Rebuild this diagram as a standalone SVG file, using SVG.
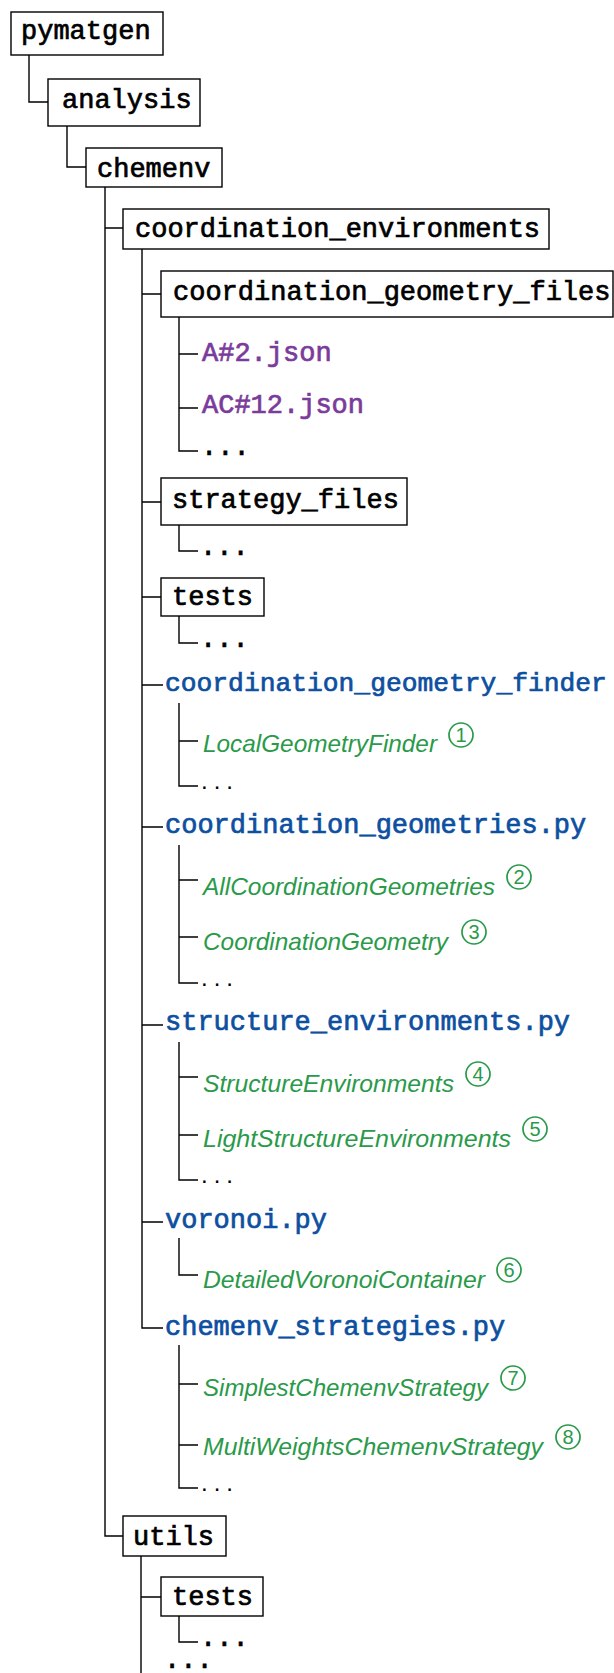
<svg xmlns="http://www.w3.org/2000/svg" width="614" height="1673" viewBox="0 0 614 1673">
<style>
.bg{fill:#fff}
.box{fill:#fff;stroke:#000;stroke-width:1.4}
.c{fill:none;stroke:#000;stroke-width:1.4}
.tt{font-family:"Liberation Mono","DejaVu Sans Mono",monospace;font-size:27px;fill:#000;stroke:#000;stroke-width:0.7}
.js{fill:#7b3b9a;stroke:#7b3b9a}
.py{fill:#0d4fa0;stroke:#0d4fa0}
.cl{font-family:"Liberation Sans","DejaVu Sans",sans-serif;font-style:italic;font-size:24px;fill:#2a9a4a}
.dots{font-family:"Liberation Sans",sans-serif;font-size:24px;fill:#000;letter-spacing:6px}
.circ{fill:none;stroke:#2a9a4a;stroke-width:1.7}
.num{font-family:"Liberation Sans","DejaVu Sans",sans-serif;font-size:20px;fill:#2a9a4a;text-anchor:middle}
</style>
<rect class="bg" x="0" y="0" width="614" height="1673"/>
<g id="connectors">
<path class="c" d="M29 55V102H48"/>
<path class="c" d="M67 126V167H86"/>
<path class="c" d="M105 187V1536H123M105 228H123"/>
<path class="c" d="M142 249V1328H163M142 294H161M142 502H161M142 597H161M142 685H163M142 827H163M142 1025H163M142 1222H163"/>
<path class="c" d="M179 317V451H198M179 354H198M179 408H198"/>
<path class="c" d="M179 525V551H198"/>
<path class="c" d="M179 616V643H198"/>
<path class="c" d="M179 703V786H198M179 741H198"/>
<path class="c" d="M179 845V983H198M179 880H198M179 937H198"/>
<path class="c" d="M179 1042V1180H198M179 1077H198M179 1135H198"/>
<path class="c" d="M179 1238V1275H198"/>
<path class="c" d="M179 1345V1488H198M179 1384H198M179 1445H198"/>
<path class="c" d="M141 1556V1680M141 1597H161"/>
<path class="c" d="M179 1616V1642H198"/>
</g>
<g id="pymatgen"><rect class="box" x="11" y="12" width="152" height="43"/><text class="tt" x="21" y="39">pymatgen</text></g>
<g id="analysis"><rect class="box" x="48" y="79" width="152" height="47"/><text class="tt" x="62" y="108">analysis</text></g>
<g id="chemenv"><rect class="box" x="86" y="148" width="136" height="39"/><text class="tt" x="97" y="177">chemenv</text></g>
<g id="coordination_environments"><rect class="box" x="123" y="209" width="426" height="40"/><text class="tt" x="135" y="237">coordination_environments</text></g>
<g id="coordination_geometry_files"><rect class="box" x="161" y="271" width="452" height="46"/><text class="tt" x="173" y="300">coordination_geometry_files</text></g>
<g id="a2json"><text class="tt js" x="202" y="361">A#2.json</text></g>
<g id="ac12json"><text class="tt js" x="202" y="413">AC#12.json</text></g>
<g id="cgf_more"><text class="tt" x="201" y="455">...</text></g>
<g id="strategy_files"><rect class="box" x="161" y="478" width="246" height="47"/><text class="tt" x="172" y="508">strategy_files</text></g>
<g id="sf_more"><text class="tt" x="200" y="555">...</text></g>
<g id="tests1"><rect class="box" x="161" y="578" width="103" height="38"/><text class="tt" x="172" y="605">tests</text></g>
<g id="tests1_more"><text class="tt" x="200" y="647">...</text></g>
<g id="coordination_geometry_finder"><text class="tt py" x="165" y="691" style="font-size:26.3px">coordination_geometry_finder</text></g>
<g id="LocalGeometryFinder"><text class="cl" x="203" y="752" textLength="234" lengthAdjust="spacingAndGlyphs">LocalGeometryFinder</text><circle class="circ" cx="461" cy="735" r="12"/><text class="num" x="461" y="742">1</text></g>
<g id="cgfinder_more"><text class="dots" x="201" y="789">...</text></g>
<g id="coordination_geometries"><text class="tt py" x="165" y="833">coordination_geometries.py</text></g>
<g id="AllCoordinationGeometries"><text class="cl" x="203" y="895" textLength="292" lengthAdjust="spacingAndGlyphs">AllCoordinationGeometries</text><circle class="circ" cx="519" cy="877" r="12"/><text class="num" x="519" y="884">2</text></g>
<g id="CoordinationGeometry"><text class="cl" x="203" y="950" textLength="245" lengthAdjust="spacingAndGlyphs">CoordinationGeometry</text><circle class="circ" cx="474" cy="932" r="12"/><text class="num" x="474" y="939">3</text></g>
<g id="cgeoms_more"><text class="dots" x="201" y="986">...</text></g>
<g id="structure_environments"><text class="tt py" x="165" y="1030">structure_environments.py</text></g>
<g id="StructureEnvironments"><text class="cl" x="203" y="1092" textLength="251" lengthAdjust="spacingAndGlyphs">StructureEnvironments</text><circle class="circ" cx="478" cy="1074" r="12"/><text class="num" x="478" y="1081">4</text></g>
<g id="LightStructureEnvironments"><text class="cl" x="203" y="1147" textLength="308" lengthAdjust="spacingAndGlyphs">LightStructureEnvironments</text><circle class="circ" cx="535" cy="1129" r="12"/><text class="num" x="535" y="1136">5</text></g>
<g id="senv_more"><text class="dots" x="201" y="1183">...</text></g>
<g id="voronoi"><text class="tt py" x="165" y="1228">voronoi.py</text></g>
<g id="DetailedVoronoiContainer"><text class="cl" x="203" y="1288" textLength="282" lengthAdjust="spacingAndGlyphs">DetailedVoronoiContainer</text><circle class="circ" cx="509" cy="1270" r="12"/><text class="num" x="509" y="1277">6</text></g>
<g id="chemenv_strategies"><text class="tt py" x="165" y="1335">chemenv_strategies.py</text></g>
<g id="SimplestChemenvStrategy"><text class="cl" x="203" y="1396" textLength="285" lengthAdjust="spacingAndGlyphs">SimplestChemenvStrategy</text><circle class="circ" cx="513" cy="1378" r="12"/><text class="num" x="513" y="1385">7</text></g>
<g id="MultiWeightsChemenvStrategy"><text class="cl" x="203" y="1455" textLength="340" lengthAdjust="spacingAndGlyphs">MultiWeightsChemenvStrategy</text><circle class="circ" cx="568" cy="1437" r="12"/><text class="num" x="568" y="1444">8</text></g>
<g id="cstrat_more"><text class="dots" x="201" y="1491">...</text></g>
<g id="utils"><rect class="box" x="123" y="1516" width="103" height="40"/><text class="tt" x="133" y="1545">utils</text></g>
<g id="tests2"><rect class="box" x="161" y="1577" width="102" height="39"/><text class="tt" x="172" y="1605">tests</text></g>
<g id="tests2_more"><text class="tt" x="200" y="1646">...</text></g>
<g id="utils_more"><text class="tt" x="164" y="1668">...</text></g>
</svg>
